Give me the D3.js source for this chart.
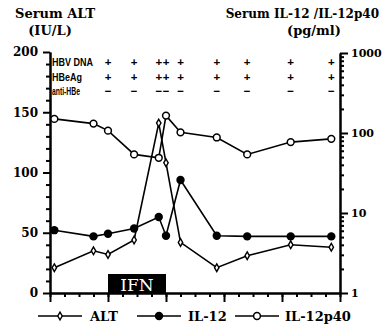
<!DOCTYPE html>
<html>
<head>
<meta charset="utf-8">
<script src="https://cdn.jsdelivr.net/npm/d3@7"></script>
<style>
  body { margin: 0; background: #fff; }
  text { fill: #000; }
</style>
</head>
<body>
<div id="chart"></div>
<script>
// sampling times (x units of the time axis)
var times = [0.3, 3, 4, 5.8, 7.5, 8, 9, 11.5, 13.6, 16.6, 19.4]
// serum ALT, IU/L (left axis)
var alt = [21, 35, 32, 44, 141, 108, 42, 21, 31, 40, 38]
// serum IL-12 and IL-12p40, pg/ml (right log axis)
var il12 = [6.1, 5.1, 5.5, 6.4, 8.9, 5.2, 25.8, 5.2, 5.1, 5.1, 5.1]
var il12p40 = [150, 131, 107, 54, 49, 165, 102, 88, 54, 77, 84.5]
// markers above the chart, from the 3rd sample on
var markerRows = ['HBV DNA', 'HBeAg', 'anti-HBe']
var markerSigns = ['+', '+', '\u2212']
var ifnPeriod = [4, 8]

var leftTicks = [0, 50, 100, 150, 200]
var rightTicks = [1, 10, 100, 1000]

var width = 382
var height = 329
var margin = { top: 52, right: 42, bottom: 36, left: 50 }

var svg = d3.select('#chart').append('svg')
  .attr('width', width)
  .attr('height', height)

var x = d3.scaleLinear()
  .domain([0, 20])
  .range([margin.left, width - margin.right])

var yL = d3.scaleLinear()
  .domain([0, 200])
  .range([height - margin.bottom, margin.top])

var yR = d3.scaleLog()
  .domain([1, 1000])
  .range([height - margin.bottom, margin.top + 1])

var serif = 'DejaVu Serif, serif'

// ---- axes
function styleAxis(g, size) {
  g.selectAll('path, line').attr('stroke', '#000').attr('stroke-width', 2)
  g.selectAll('text')
    .attr('font-family', serif)
    .attr('font-weight', 'bold')
    .attr('font-size', size || 12)
    .attr('fill', '#000')
}

var leftMinor = d3.range(0, 201, 10).filter(d => d % 50 !== 0)
svg.append('g')
  .attr('transform', `translate(${margin.left},0)`)
  .call(d3.axisLeft(yL).tickValues(leftMinor).tickSize(4).tickFormat('').tickSizeOuter(0))
  .call(styleAxis)
svg.append('g')
  .attr('transform', `translate(${margin.left},0)`)
  .call(d3.axisLeft(yL).tickValues(leftTicks).tickSize(7).tickPadding(5).tickSizeOuter(0))
  .call(styleAxis)

var rightMinor = []
rightTicks.slice(0, -1).forEach(p => d3.range(2, 10).forEach(k => rightMinor.push(p * k)))
svg.append('g')
  .attr('transform', `translate(${width - margin.right},0)`)
  .call(d3.axisRight(yR).tickValues(rightMinor).tickSize(4).tickFormat('').tickSizeOuter(0))
  .call(styleAxis)
svg.append('g')
  .attr('transform', `translate(${width - margin.right},0)`)
  .call(d3.axisRight(yR).tickValues(rightTicks).tickSize(8).tickPadding(3).tickFormat(d3.format('d')).tickSizeOuter(0))
  .call(g => styleAxis(g, 11))

svg.append('g')
  .attr('transform', `translate(0,${height - margin.bottom})`)
  .call(d3.axisBottom(x).tickValues(d3.range(0, 21, 1)).tickSize(4).tickFormat('').tickSizeOuter(0))
  .call(styleAxis)
svg.append('g')
  .attr('transform', `translate(0,${height - margin.bottom})`)
  .call(d3.axisBottom(x).tickValues(d3.range(0, 21, 4)).tickSize(9).tickFormat('').tickSizeOuter(0))
  .call(styleAxis)

// ---- IFN bar
svg.append('rect')
  .attr('x', x(ifnPeriod[0]))
  .attr('y', height - margin.bottom - 19)
  .attr('width', x(ifnPeriod[1]) - x(ifnPeriod[0]))
  .attr('height', 19)
  .attr('fill', '#000')
svg.append('text')
  .attr('x', (x(ifnPeriod[0]) + x(ifnPeriod[1])) / 2)
  .attr('y', height - margin.bottom - 2)
  .attr('text-anchor', 'middle')
  .attr('font-family', serif)
  .attr('font-size', 17)
  .style('fill', '#fff')
  .text('IFN')

// ---- series lines
var series = [
  { name: 'ALT', values: alt, y: yL, mark: 'diamond' },
  { name: 'IL-12', values: il12, y: yR, mark: 'dot' },
  { name: 'IL-12p40', values: il12p40, y: yR, mark: 'circle' }
]

series.forEach(s => {
  var line = d3.line()
    .x((d, i) => x(times[i]))
    .y(d => s.y(d))
  svg.append('path')
    .datum(s.values)
    .attr('d', line)
    .attr('fill', 'none')
    .attr('stroke', '#000')
    .attr('stroke-width', 1.6)
})

function drawMark(g, kind) {
  if (kind === 'diamond') {
    g.append('path')
      .attr('d', d3.symbol(d3.symbolDiamond, 17)())
      .attr('fill', '#fff').attr('stroke', '#000').attr('stroke-width', 1.4)
  } else if (kind === 'dot') {
    g.append('circle').attr('r', 4.2).attr('fill', '#000')
  } else {
    g.append('circle').attr('r', 3.4)
      .attr('fill', '#fff').attr('stroke', '#000').attr('stroke-width', 1.5)
  }
}

series.forEach(s => {
  s.values.forEach((d, i) => {
    var g = svg.append('g')
      .attr('transform', `translate(${x(times[i])},${s.y(d)})`)
    drawMark(g, s.mark)
  })
})

// ---- marker table
var rowY = [62, 77, 91]
markerRows.forEach((label, r) => {
  svg.append('text')
    .attr('x', margin.left + 2)
    .attr('y', rowY[r] + 3.5)
    .attr('font-family', 'Liberation Sans, Arial, sans-serif')
    .attr('font-weight', 'bold')
    .attr('font-size', 10)
    .attr('textLength', [41, 30, 28][r])
    .attr('lengthAdjust', 'spacingAndGlyphs')
    .text(label)
  times.slice(2).forEach(t => {
    svg.append('text')
      .attr('x', x(t))
      .attr('y', rowY[r] + 4)
      .attr('text-anchor', 'middle')
      .attr('font-family', 'Liberation Sans, Arial, sans-serif')
      .attr('font-weight', 'bold')
      .attr('font-size', 11.5)
      .text(markerSigns[r])
  })
})

// ---- titles
function title(txt, xp, yp, anchor, size) {
  svg.append('text')
    .attr('x', xp).attr('y', yp)
    .attr('text-anchor', anchor)
    .attr('font-family', serif)
    .attr('font-weight', 'bold')
    .attr('font-size', size || 13)
    .text(txt)
}
title('Serum ALT', 15, 18, 'start')
title('(IU/L)', 50, 35, 'middle')
title('Serum IL-12 /IL-12p40', 379, 18, 'end', 12)
title('(pg/ml)', 314, 35, 'middle')

// ---- legend
var legend = [
  { name: 'ALT', mark: 'diamond', x0: 38, x1: 82, tx: 90 },
  { name: 'IL-12', mark: 'dot', x0: 137, x1: 181, tx: 188 },
  { name: 'IL-12p40', mark: 'circle', x0: 235, x1: 279, tx: 285 }
]
legend.forEach(l => {
  var ly = 316
  svg.append('line')
    .attr('x1', l.x0).attr('x2', l.x1)
    .attr('y1', ly).attr('y2', ly)
    .attr('stroke', '#000').attr('stroke-width', 1.6)
  var g = svg.append('g').attr('transform', `translate(${(l.x0 + l.x1) / 2},${ly})`)
  drawMark(g, l.mark)
  svg.append('text')
    .attr('x', l.tx).attr('y', 320.5)
    .attr('font-family', serif)
    .attr('font-weight', 'bold')
    .attr('font-size', 13)
    .text(l.name)
})
</script>
</body>
</html>
